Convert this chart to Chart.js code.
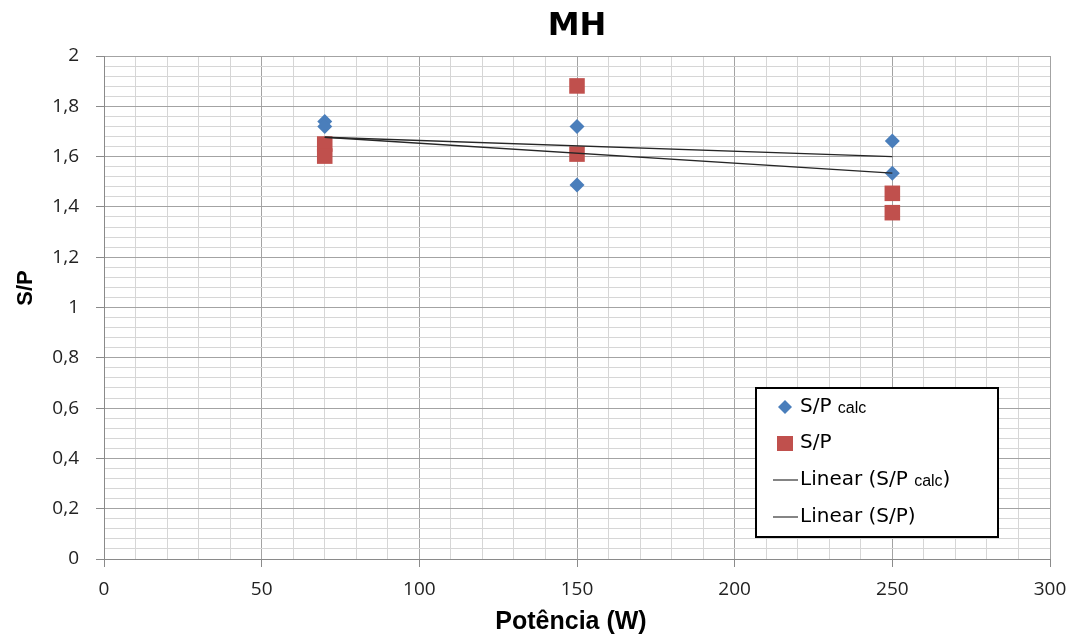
<!DOCTYPE html>
<html lang="pt">
<head>
<meta charset="UTF-8">
<title>MH</title>
<script src="https://cdn.jsdelivr.net/npm/chart.js"></script>
<style>
  html, body { margin: 0; padding: 0; background: #fff; }
  .wrap { width: 1079px; height: 639px; }
</style>
</head>
<body>
<div class="wrap"><canvas id="mh"></canvas></div>
<script>
// values
var potCalc = [70, 70, 150, 150, 250, 250];
var spCalc = [1.74, 1.72, 1.72, 1.487, 1.662, 1.534];
var potSP = [70, 70, 150, 150, 250, 250];
var spMeas = [1.65, 1.602, 1.881, 1.61, 1.454, 1.377];
// trend line end points (as shown in the picture)
var trendX = [70, 250];
var trendCalc = [1.677, 1.60];
var trendSP = [1.677, 1.534];

var blue = '#4a7ebb';
var red = '#c0504d';

function pts(xs, ys) {
    return xs.map(function (x, i) { return { x: x, y: ys[i] }; });
}

// chart title and axis titles, placed the way the spreadsheet put them
var titles = {
    id: 'titles',
    afterDraw: function (chart) {
        var ctx = chart.ctx;
        var ca = chart.chartArea;
        ctx.save();
        ctx.fillStyle = '#000';
        ctx.textAlign = 'center';
        ctx.textBaseline = 'middle';
        ctx.font = 'bold 32px "DejaVu Sans"';
        ctx.fillText('MH', (ca.left + ca.right) / 2, 27);

        ctx.font = 'bold 25px "Liberation Sans"';
        ctx.fillText('Potência (W)', (ca.left + ca.right) / 2 - 6, 622);

        ctx.translate(25, 288);
        ctx.rotate(-Math.PI / 2);
        ctx.font = 'bold 22px "Liberation Sans"';
        ctx.fillText('S/P', 0, 1);
        ctx.restore();
    }
};

// legend box drawn inside the plot
var boxLegend = {
    id: 'boxLegend',
    afterDraw: function (chart) {
        var ctx = chart.ctx;
        var ca = chart.chartArea;
        var x1 = ca.right - 294, y1 = ca.bottom - 171;
        var w = 242, h = 149;
        ctx.save();
        ctx.fillStyle = '#fff';
        ctx.fillRect(x1, y1, w, h);
        ctx.strokeStyle = '#000';
        ctx.lineWidth = 2;
        ctx.strokeRect(x1, y1, w, h);

        var mx = x1 + 29, tx = x1 + 44;
        var rows = [y1 + 19, y1 + 55, y1 + 92, y1 + 129];
        ctx.textBaseline = 'middle';
        ctx.textAlign = 'left';

        // diamond
        ctx.fillStyle = blue;
        ctx.beginPath();
        ctx.moveTo(mx, rows[0] - 7); ctx.lineTo(mx + 7, rows[0]);
        ctx.lineTo(mx, rows[0] + 7); ctx.lineTo(mx - 7, rows[0]);
        ctx.closePath(); ctx.fill();
        // square
        ctx.fillStyle = red;
        ctx.fillRect(mx - 8, rows[1] - 7, 16, 15);
        // lines
        ctx.strokeStyle = '#333';
        ctx.lineWidth = 1.2;
        [rows[2], rows[3]].forEach(function (ry) {
            ctx.beginPath(); ctx.moveTo(x1 + 17, ry); ctx.lineTo(x1 + 42, ry); ctx.stroke();
        });

        var big = '20px "DejaVu Sans"', small = '16px "Liberation Sans"';
        ctx.fillStyle = '#000';
        function seg(parts, y) {
            var x = tx;
            parts.forEach(function (p) {
                ctx.font = p[1];
                ctx.fillText(p[0], x, y + (p[1] === small ? 2 : 0));
                x += ctx.measureText(p[0]).width;
            });
        }
        seg([['S/P ', big], ['calc', small]], rows[0]);
        seg([['S/P', big]], rows[1]);
        seg([['Linear (S/P ', big], ['calc', small], [')', big]], rows[2]);
        seg([['Linear (S/P)', big]], rows[3]);
        ctx.restore();
    }
};

function majorX(c) { return c.tick && c.tick.value % 50 === 0; }
function majorY(c) { return c.tick && Math.round(c.tick.value * 100) % 20 === 0; }

new Chart(document.getElementById('mh'), {
    type: 'scatter',
    data: {
        datasets: [
            {
                label: 'S/P calc',
                data: pts(potCalc, spCalc),
                pointStyle: 'rectRot',
                pointRadius: 7.5,
                pointHoverRadius: 7.5,
                backgroundColor: blue,
                borderColor: blue,
                borderWidth: 0,
                order: 2
            },
            {
                label: 'S/P',
                data: pts(potSP, spMeas),
                pointStyle: 'rect',
                pointRadius: 11,
                pointHoverRadius: 11,
                backgroundColor: red,
                borderColor: red,
                borderWidth: 0,
                order: 2
            },
            {
                label: 'Linear (S/P calc)',
                type: 'line',
                data: pts(trendX, trendCalc),
                borderColor: '#262626',
                borderWidth: 1.3,
                pointRadius: 0,
                fill: false,
                order: 1
            },
            {
                label: 'Linear (S/P)',
                type: 'line',
                data: pts(trendX, trendSP),
                borderColor: '#262626',
                borderWidth: 1.3,
                pointRadius: 0,
                fill: false,
                order: 1
            }
        ]
    },
    options: {
        responsive: true,
        maintainAspectRatio: false,
        animation: false,
        layout: { padding: { left: 0, right: 29, top: 56, bottom: 0 } },
        plugins: {
            legend: { display: false },
            tooltip: { enabled: false },
            title: { display: false }
        },
        scales: {
            x: {
                type: 'linear',
                min: 0,
                max: 300,
                afterFit: function (s) { s.height = 80; },
                ticks: {
                    stepSize: 10,
                    autoSkip: false,
                    maxRotation: 0,
                    color: '#222',
                    font: { family: 'Open Sans', size: 19 },
                    padding: 11,
                    callback: function (v) { return v % 50 === 0 ? String(v) : ''; }
                },
                grid: {
                    color: function (c) { return majorX(c) ? '#a3a3a3' : '#d6d6d6'; },
                    lineWidth: 1,
                    tickLength: 8,
                    tickColor: function (c) { return majorX(c) ? '#8a8a8a' : 'rgba(0,0,0,0)'; }
                },
                border: { color: '#8a8a8a', width: 1 }
            },
            y: {
                min: 0,
                max: 2,
                afterFit: function (s) { s.width = 104; },
                ticks: {
                    stepSize: 0.04,
                    autoSkip: false,
                    color: '#222',
                    font: { family: 'Open Sans', size: 19 },
                    padding: 17,
                    callback: function (v) {
                        var n = Math.round(v * 100);
                        if (n % 20 !== 0) return '';
                        return String(n / 100).replace('.', ',');
                    }
                },
                grid: {
                    color: function (c) { return majorY(c) ? '#a3a3a3' : '#d6d6d6'; },
                    lineWidth: 1,
                    tickLength: 8,
                    tickColor: function (c) { return majorY(c) ? '#8a8a8a' : 'rgba(0,0,0,0)'; }
                },
                border: { color: '#8a8a8a', width: 1 }
            }
        }
    },
    plugins: [titles, boxLegend]
});
</script>
</body>
</html>
